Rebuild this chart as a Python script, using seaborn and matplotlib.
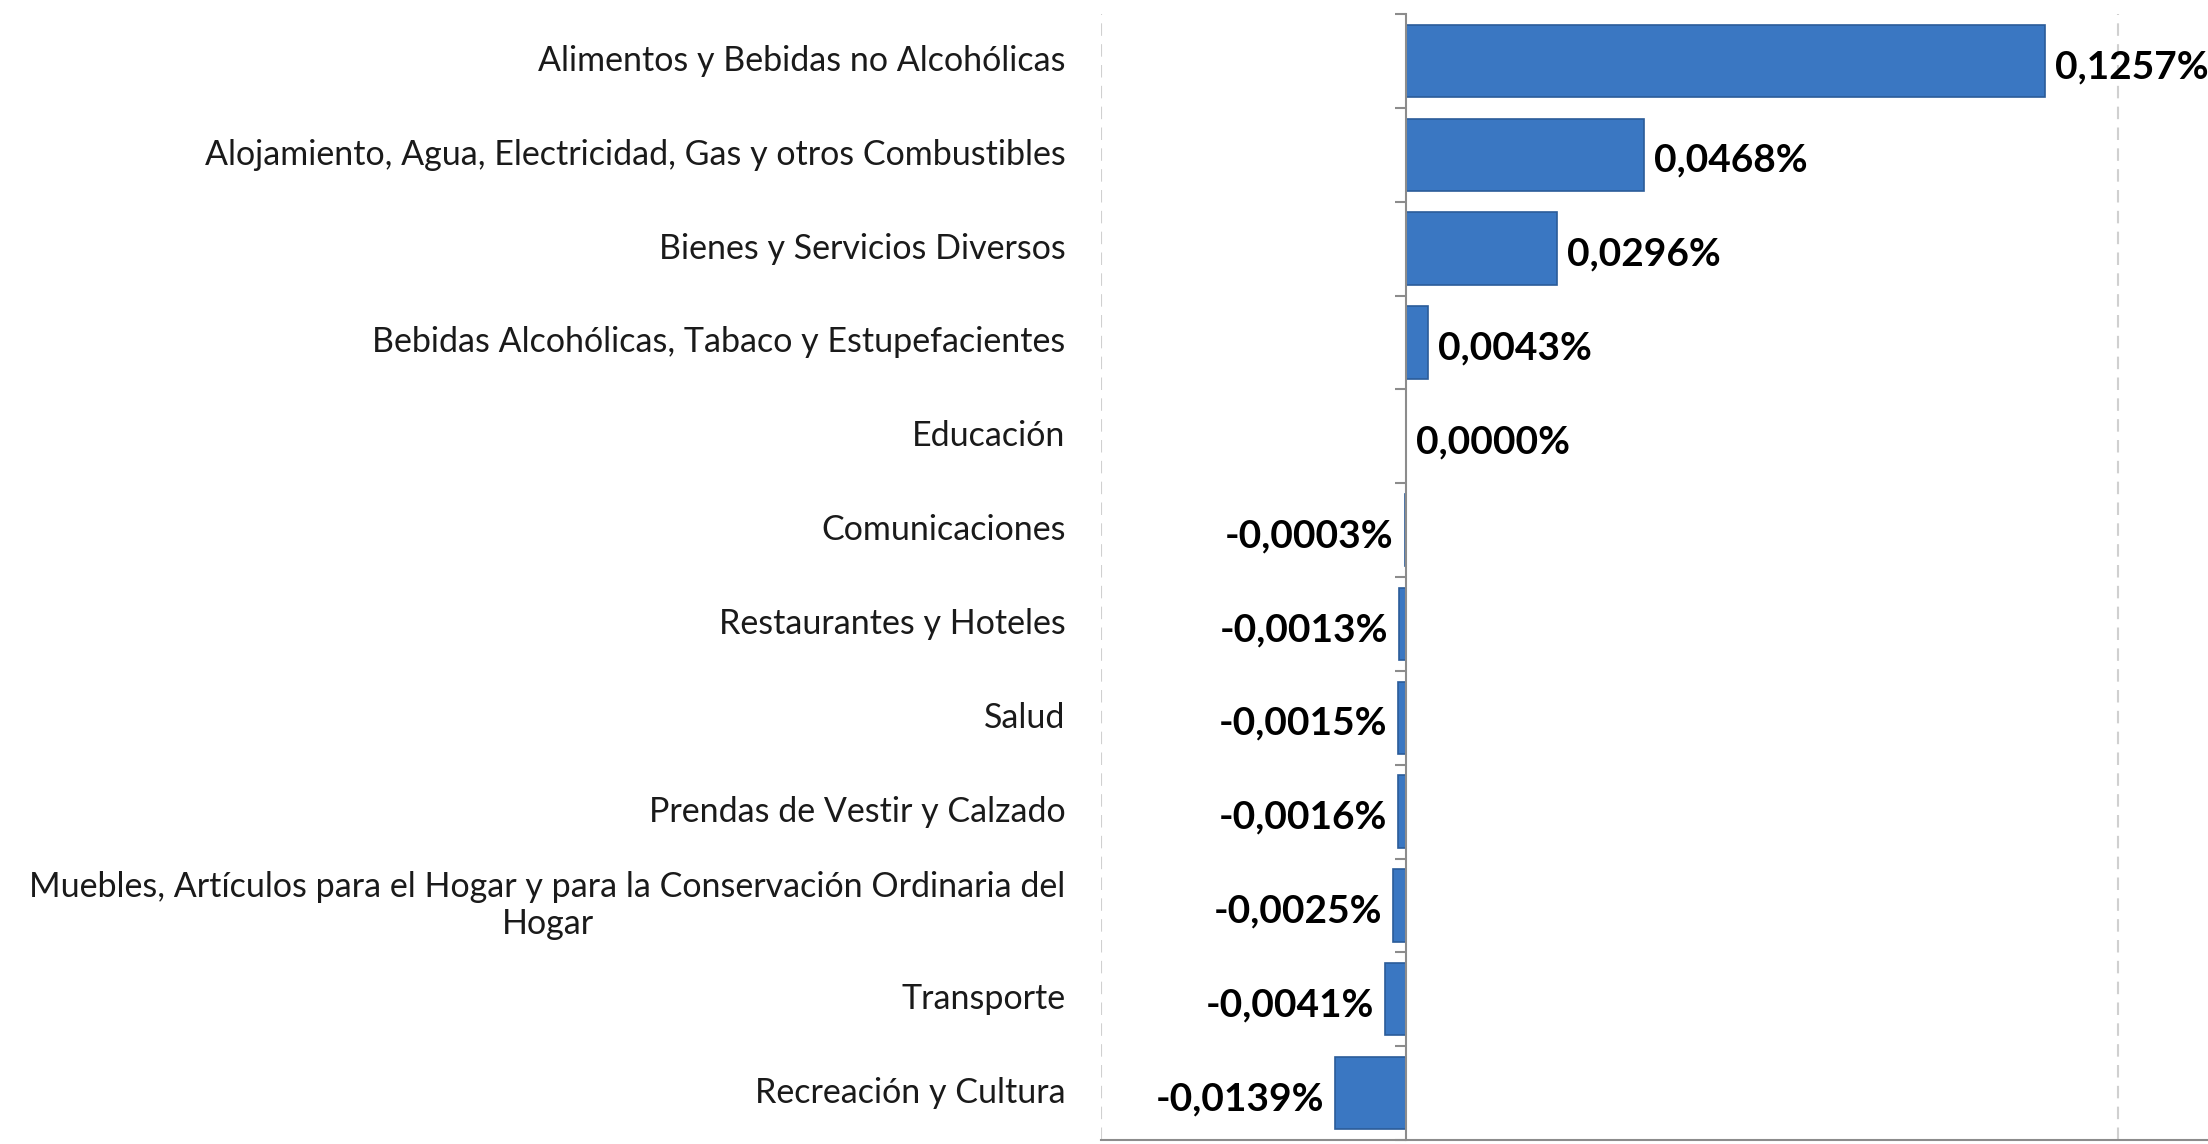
import matplotlib
matplotlib.use("Agg")
import matplotlib.pyplot as plt
import matplotlib.transforms as mtransforms
import seaborn as sns
import pandas as pd

categories = [
    "Alimentos y Bebidas no Alcohólicas",
    "Alojamiento, Agua, Electricidad, Gas y otros Combustibles",
    "Bienes y Servicios Diversos",
    "Bebidas Alcohólicas, Tabaco y Estupefacientes",
    "Educación",
    "Comunicaciones",
    "Restaurantes y Hoteles",
    "Salud",
    "Prendas de Vestir y Calzado",
    "Muebles, Artículos para el Hogar y para la Conservación Ordinaria del\nHogar",
    "Transporte",
    "Recreación y Cultura",
]
values = [0.1257, 0.0468, 0.0296, 0.0043, 0.0000, -0.0003,
          -0.0013, -0.0015, -0.0016, -0.0025, -0.0041, -0.0139]

df = pd.DataFrame({"cat": categories, "val": values})

sns.set_style("white")
plt.rcParams["font.family"] = ["Lato", "DejaVu Sans"]

fig = plt.figure(figsize=(22.08, 11.44), dpi=100)
ax = fig.add_axes([1101 / 2208, 4 / 1144, 1 - 1101 / 2208, 1126 / 1144])

sns.barplot(data=df, y="cat", x="val", orient="h", color="#3A77C2",
            saturation=1, width=0.77, edgecolor="#2B5C99", linewidth=1.2, ax=ax)

ax.set_xlim(-0.06, 0.1577)
ax.set_ylim(11.5, -0.5)
ax.set_xlabel("")
ax.set_ylabel("")

# dashed grid lines
for gx in [-0.06, 0.14]:
    ax.axvline(gx, color="#d0d0d0", linestyle=(0, (6, 4)), linewidth=1.5, zorder=0)

for s in ["top", "right"]:
    ax.spines[s].set_visible(False)
ax.spines["left"].set_position(("data", 0))
ax.spines["left"].set_color("#8c8c8c")
ax.spines["left"].set_linewidth(1.5)
ax.spines["bottom"].set_color("#8c8c8c")
ax.spines["bottom"].set_linewidth(1.5)

ax.set_xticks([])
ax.set_yticks([])
ax.set_yticks([i + 0.5 for i in range(-1, 12)], minor=True)
ax.tick_params(axis="y", which="minor", left=True, direction="out", length=8,
               width=1.5, color="#8c8c8c", labelleft=False)

# category labels at the left side of the plot area
trans = mtransforms.blended_transform_factory(ax.transAxes, ax.transData)
for i, c in enumerate(categories):
    ax.text(-0.032, i, c, transform=trans, ha="right", va="center",
            multialignment="center", fontsize=24.5, color="#1a1a1a")

# value labels
for i, v in enumerate(values):
    lab = f"{v:.4f}%".replace(".", ",")
    if v >= 0:
        ax.text(v + 0.002, i + 0.06, lab, ha="left", va="center",
                fontsize=28, fontweight="bold", color="black")
    else:
        ax.text(v - 0.0022, i + 0.06, lab, ha="right", va="center",
                fontsize=28, fontweight="bold", color="black")

fig.savefig("out.png", dpi=100)
